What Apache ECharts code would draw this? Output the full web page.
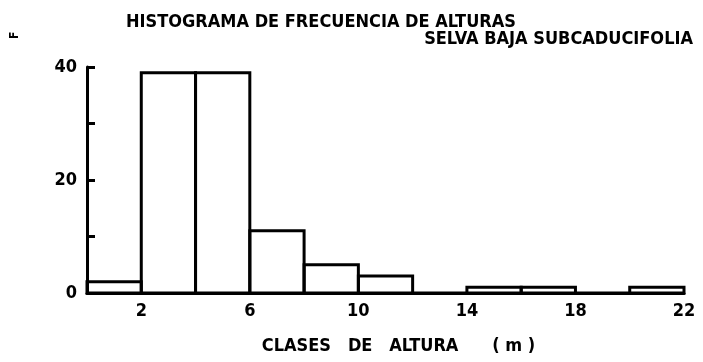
<!DOCTYPE html>
<html>
<head>
<meta charset="utf-8">
<script src="https://cdn.jsdelivr.net/npm/echarts@6/dist/echarts.min.js"></script>
<style>
  html, body { margin: 0; padding: 0; background: #fff; }
  #chart { width: 703px; height: 362px; }
</style>
</head>
<body>
<div id="chart"></div>
<script>
// clases de altura (m), ancho 2
const binStarts = [0, 2, 4, 6, 8, 10, 12, 14, 16, 18, 20];
const binWidth = 2;
const counts = [2, 39, 39, 11, 5, 3, 0, 1, 1, 0, 1];
const xLabels = [2, 6, 10, 14, 18, 22];
const yLabels = [0, 20, 40];

const font = '"DejaVu Sans Condensed", sans-serif';
const chart = echarts.init(document.getElementById('chart'));

const bins = binStarts.map((s, i) => [s, s + binWidth, counts[i]]);

chart.setOption({
  animation: false,
  title: [
    {
      text: 'HISTOGRAMA DE FRECUENCIA DE ALTURAS',
      left: 121, top: 8,
      textStyle: { fontFamily: font, fontWeight: 'bold', fontSize: 18, color: '#000' }
    },
    {
      text: 'SELVA BAJA SUBCADUCIFOLIA',
      right: 5, top: 25,
      textStyle: { fontFamily: font, fontWeight: 'bold', fontSize: 18, color: '#000' }
    }
  ],
  graphic: [{
    type: 'text',
    x: 9, y: 39,
    rotation: Math.PI / 2,
    style: { text: 'F', fontFamily: font, fontWeight: 'bold', fontSize: 12, fill: '#000' }
  }],
  grid: { left: 87, right: 19, top: 67, bottom: 69 },
  xAxis: {
    type: 'value',
    min: 0, max: 22, interval: 2,
    name: 'CLASES   DE   ALTURA      ( m )',
    nameLocation: 'middle',
    nameGap: 44,
    nameTextStyle: { fontFamily: font, fontWeight: 'bold', fontSize: 18, color: '#000', padding: [0, 0, 0, 26] },
    axisLine: { lineStyle: { color: '#000', width: 3 } },
    axisTick: { show: false },
    splitLine: { show: false },
    axisLabel: {
      fontFamily: font, fontWeight: 'bold', fontSize: 18, color: '#000', margin: 9,
      formatter: v => xLabels.includes(v) ? String(v) : ''
    }
  },
  yAxis: {
    type: 'value',
    min: 0, max: 40, interval: 10,
    axisLine: { lineStyle: { color: '#000', width: 3 } },
    axisTick: { inside: true, length: 8, lineStyle: { color: '#000', width: 3 } },
    splitLine: { show: false },
    axisLabel: {
      fontFamily: font, fontWeight: 'bold', fontSize: 18, color: '#000', margin: 10,
      formatter: v => yLabels.includes(v) ? String(v) : ''
    }
  },
  series: [{
    type: 'custom',
    data: bins,
    encode: { x: [0, 1], y: 2 },
    renderItem: (params, api) => {
      const p0 = api.coord([api.value(0), api.value(2)]);
      const p1 = api.coord([api.value(1), 0]);
      return {
        type: 'rect',
        shape: { x: p0[0], y: p0[1], width: p1[0] - p0[0], height: p1[1] - p0[1] },
        style: { fill: 'none', stroke: '#000', lineWidth: 3 }
      };
    }
  }]
});
</script>
</body>
</html>
